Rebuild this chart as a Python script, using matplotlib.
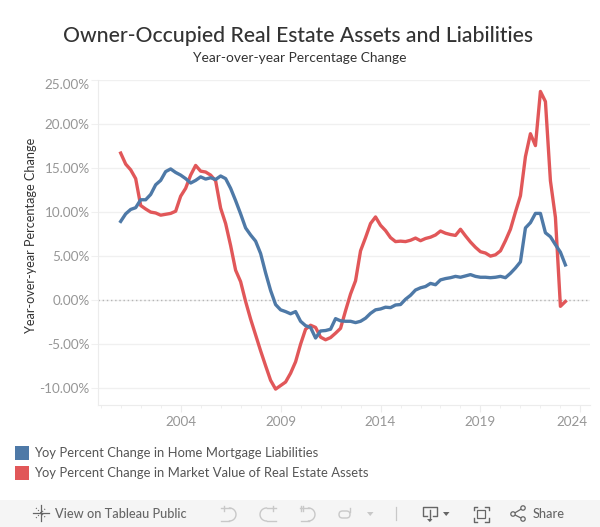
import numpy as np
import matplotlib
matplotlib.use("Agg")
import matplotlib.pyplot as plt
from matplotlib.patches import Rectangle, Circle, FancyBboxPatch
from matplotlib.transforms import ScaledTranslation

plt.rcParams['font.family'] = ['Lato', 'DejaVu Sans']

W, H = 600, 527
START_YEAR = 2001

# quarterly values, 2001 Q1 to 2023 Q2
liabilities = [8.94, 9.8, 10.3, 10.5, 11.4, 11.4, 12.0, 13.1, 13.6, 14.6,
               14.9, 14.5, 14.2, 13.8, 13.3, 13.6, 14.0, 13.75, 13.9, 13.7,
               14.1, 13.8, 12.7, 11.3, 9.8, 8.2, 7.4, 6.7, 5.3, 3.1,
               1.1, -0.5, -1.1, -1.3, -1.55, -1.3, -2.4, -2.9, -3.1, -4.3,
               -3.5, -3.45, -3.3, -2.1, -2.35, -2.4, -2.4, -2.55, -2.4, -2.05,
               -1.5, -1.1, -1.0, -0.8, -0.85, -0.55, -0.5, 0.1, 0.55, 1.15,
               1.4, 1.55, 1.9, 1.75, 2.3, 2.45, 2.55, 2.7, 2.6, 2.75,
               2.9, 2.7, 2.6, 2.6, 2.55, 2.6, 2.7, 2.55, 3.05, 3.65,
               4.35, 8.2, 8.8, 9.85, 9.85, 7.65, 7.2, 6.3, 5.45, 4.0]
assets = [16.7, 15.45, 14.8, 13.8, 10.75, 10.35, 10.0, 9.9, 9.65, 9.75,
          9.85, 10.1, 11.8, 12.7, 14.2, 15.3, 14.65, 14.55, 14.2, 13.55,
          10.45, 8.7, 6.2, 3.4, 2.1, -0.15, -2.15, -3.95, -5.75, -7.45,
          -9.1, -10.1, -9.7, -9.3, -8.3, -7.0, -5.0, -3.3, -2.85, -3.1,
          -4.2, -4.5, -4.25, -3.75, -3.2, -1.2, 0.7, 2.2, 5.6, 7.1,
          8.7, 9.45, 8.5, 7.9, 7.1, 6.65, 6.7, 6.65, 6.8, 7.05,
          6.75, 7.0, 7.15, 7.4, 7.85, 7.6, 7.45, 7.35, 8.05, 7.3,
          6.6, 6.0, 5.5, 5.35, 5.0, 5.15, 5.6, 6.75, 8.05, 10.0,
          11.85, 16.3, 18.9, 17.55, 23.7, 22.55, 13.55, 9.4, -0.7, -0.15]
year_ticks = [2004, 2009, 2014, 2019, 2024]
minor_years = list(range(2000, 2025))
pct_ticks = [-10, -5, 0, 5, 10, 15, 20, 25]

BLUE = '#4e79a7'
RED = '#e15759'
GRID = '#f0f0f0'
AXIS = '#ececec'
TICK_TEXT = '#969696'
DARK = '#333333'
ICON = '#666666'
FADED = '#c8c8c8'
BAR = '#f5f5f5'

quarters = START_YEAR + np.arange(len(liabilities)) / 4

fig = plt.figure(figsize=(W / 100, H / 100), dpi=100, facecolor='white')
ax = fig.add_axes([97.5 / W, 1 - 404.5 / H, (590 - 97.5) / W, (404.5 - 80) / H])
ax.set_xlim(1999.84, 2024.48)
ax.set_ylim(-11.85, 25)

ax.plot(quarters, assets, color=RED, lw=2.4, solid_joinstyle='round', zorder=3)
ax.plot(quarters, liabilities, color=BLUE, lw=2.4, solid_joinstyle='round', zorder=4)

ax.set_yticks(pct_ticks)
ax.set_yticklabels(['{:.2f}%'.format(v) for v in pct_ticks])
ax.set_xticks(year_ticks)
ax.set_xticks(minor_years, minor=True)
ax.set_xticklabels([str(y) for y in year_ticks])
ax.grid(axis='y', color=GRID, lw=1)
ax.axhline(0, color='#b5b5b5', lw=1, ls=(0, (1, 2)), zorder=2)
ax.set_axisbelow(True)
for side in ['top', 'right']:
    ax.spines[side].set_visible(False)
for side in ['left', 'bottom']:
    ax.spines[side].set_color(AXIS)
ax.tick_params(axis='y', length=5, color=GRID, labelcolor=TICK_TEXT, labelsize=9.7, pad=0.5, direction='out')
ax.tick_params(axis='x', which='major', length=5, color=AXIS, labelcolor=TICK_TEXT, labelsize=9.7, pad=3)
ax.tick_params(axis='x', which='minor', length=2, color=AXIS)

# top y label and last x label are pushed inside the view, as in the original
labels = ax.get_yticklabels()
labels[-1].set_transform(labels[-1].get_transform() + ScaledTranslation(0, -4 / 100, fig.dpi_scale_trans))
labels = ax.get_xticklabels()
labels[-1].set_transform(labels[-1].get_transform() + ScaledTranslation(-8 / 100, 0, fig.dpi_scale_trans))
ax.set_ylabel('Year-over-year Percentage Change', color=DARK, fontsize=9.1)
ax.yaxis.set_label_coords((37 - 97.5) / (590 - 97.5), 0.52)

# overlay in pixel coordinates for title, legend and toolbar
ov = fig.add_axes([0, 0, 1, 1], zorder=5)
ov.set_xlim(0, W)
ov.set_ylim(H, 0)
ov.axis('off')
ov.patch.set_alpha(0)

ov.text(298, 35.5, 'Owner-Occupied Real Estate Assets and Liabilities', ha='center', va='center',
        fontsize=15.2, color=DARK, fontweight='medium')
ov.text(300, 58, 'Year-over-year Percentage Change', ha='center', va='center', fontsize=9.9, color=DARK)

for y, color, label in [(452.5, BLUE, 'Yoy Percent Change in Home Mortgage Liabilities'),
                        (472.5, RED, 'Yoy Percent Change in Market Value of Real Estate Assets')]:
    ov.add_patch(Rectangle((15, y - 7), 14, 14, fc=color, ec='none'))
    ov.text(34.5, y + 0.8, label, va='center', fontsize=9.35, color='#555555')

# toolbar
ov.add_patch(Rectangle((0, 500), W, 27, fc=BAR, ec='none'))
ov.text(55, 513.5, 'View on Tableau Public', va='center', fontsize=9.2, color=ICON, fontweight='medium')
ov.text(533, 513.5, 'Share', va='center', fontsize=9.2, color=ICON, fontweight='medium')

# tableau logo
ov.plot([41, 41], [505, 521], color=ICON, lw=0.9)
ov.plot([33, 49], [513, 513], color=ICON, lw=0.9)
ov.plot([36, 46], [508, 518], color=ICON, lw=0.8, ls=':')
ov.plot([36, 46], [518, 508], color=ICON, lw=0.8, ls=':')

# undo / redo / revert / refresh
t = np.linspace(-np.pi / 2, np.pi / 2, 20)
ov.plot(229.5 + 6.5 * np.cos(t), 514.5 + 6.5 * np.sin(t), color=FADED, lw=1)
ov.plot([221, 229.5], [508, 508], color=FADED, lw=1)
ov.plot([221, 229], [521, 521], color=FADED, lw=1)
ov.plot([224, 224], [505.5, 510.5], color=FADED, lw=1)
ov.plot(266.5 - 6.5 * np.cos(t), 514.5 + 6.5 * np.sin(t), color=FADED, lw=1)
ov.plot([266.5, 276], [508, 508], color=FADED, lw=1)
ov.plot([266.5, 276], [521, 521], color=FADED, lw=1)
ov.plot([272.5, 272.5], [505.5, 510.5], color=FADED, lw=1)
ov.plot(308.5 + 6.5 * np.cos(t), 514.5 + 6.5 * np.sin(t), color=FADED, lw=1)
ov.plot([300, 308.5], [508, 508], color=FADED, lw=1)
ov.plot([301, 309], [521, 521], color=FADED, lw=1)
ov.plot([303, 303], [505.5, 510.5], color=FADED, lw=1)
ov.plot([300.5, 300.5], [505.5, 510.5], color=FADED, lw=1)
ov.add_patch(FancyBboxPatch((339, 511), 11, 7, boxstyle='round,pad=0,rounding_size=3.5',
                            fc='none', ec=FADED, lw=1))
ov.plot([349.5, 349.5], [507.5, 512], color=FADED, lw=1)
ov.fill([367, 373.5, 370.2], [512, 512, 516], color=FADED, lw=0)
ov.plot([395.5, 395.5], [507, 520], color=FADED, lw=0.9)

# download
ov.plot([427, 422.5, 422.5, 437, 437, 432.5], [516, 516, 506.5, 506.5, 516, 516], color=ICON, lw=1)
ov.plot([429.7, 429.7], [510, 520], color=ICON, lw=1)
ov.fill([427, 432.5, 429.7], [519, 519, 522], color=ICON, lw=0)
ov.fill([443, 449.5, 446.2], [512, 512, 516], color=ICON, lw=0)

# fullscreen
for xs, ys in [([473.5, 473.5, 477], [510, 506.5, 506.5]), ([485, 488.5, 488.5], [506.5, 506.5, 510]),
               ([473.5, 473.5, 477], [518, 521.5, 521.5]), ([485, 488.5, 488.5], [521.5, 521.5, 518])]:
    ov.plot(xs, ys, color=ICON, lw=1)
ov.add_patch(Rectangle((477, 510), 8, 8, fc='none', ec=ICON, lw=0.9))

# share
ov.plot([523, 513, 523], [508, 514, 519], color=ICON, lw=0.9)
for cx, cy in [(523, 508), (513, 514), (523, 519)]:
    ov.add_patch(Circle((cx, cy), 2.2, fc=BAR, ec=ICON, lw=0.9, zorder=6))

fig.savefig('out.png', dpi=100)
